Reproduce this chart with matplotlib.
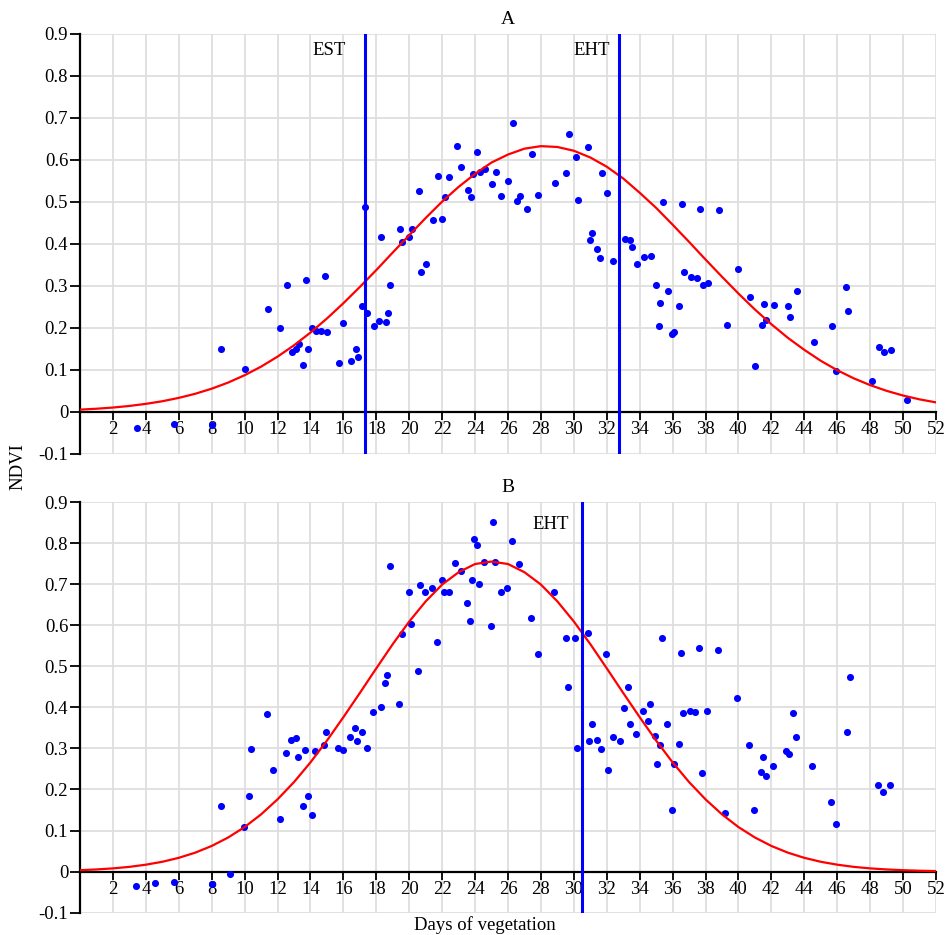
import matplotlib
matplotlib.use("Agg")
from matplotlib import pyplot as plt

plt.rcParams['font.family'] = ['Liberation Serif', 'DejaVu Serif']

# ---- panel A data ----
a_x = [3.46, 5.72, 8.0, 8.58, 10.03, 11.43, 12.16, 12.56, 12.9, 13.15, 13.31, 13.57,
       13.71, 13.88, 14.12, 14.32, 14.62, 14.87, 15.03, 15.73, 16.0, 16.44, 16.75, 16.89,
       17.15, 17.29, 17.46, 17.86, 18.16, 18.26, 18.57, 18.73, 18.83, 19.42, 19.58, 19.98,
       20.15, 20.59, 20.73, 21.01, 21.44, 21.74, 22.0, 22.17, 22.43, 22.88, 23.14, 23.56,
       23.73, 23.87, 24.13, 24.29, 24.59, 25.0, 25.28, 25.57, 25.99, 26.29, 26.56, 26.72,
       27.14, 27.45, 27.85, 28.84, 29.55, 29.71, 30.12, 30.28, 30.84, 31.0, 31.13, 31.41,
       31.57, 31.69, 32.0, 32.4, 33.13, 33.44, 33.56, 33.86, 34.26, 34.71, 34.99, 35.15,
       35.25, 35.4, 35.72, 35.98, 36.1, 36.41, 36.55, 36.71, 37.12, 37.46, 37.68, 37.86,
       38.15, 38.83, 39.3, 39.97, 40.7, 40.98, 41.42, 41.57, 41.69, 42.13, 42.98, 43.12,
       43.54, 44.58, 45.71, 45.95, 46.54, 46.68, 48.1, 48.56, 48.83, 49.25, 50.26]
a_y = [-0.037, -0.028, -0.032, 0.149, 0.103, 0.246, 0.200, 0.302, 0.143, 0.149, 0.163, 0.111,
       0.315, 0.151, 0.200, 0.194, 0.194, 0.323, 0.190, 0.117, 0.211, 0.121, 0.151, 0.131,
       0.253, 0.489, 0.236, 0.204, 0.216, 0.416, 0.215, 0.236, 0.302, 0.436, 0.405, 0.417,
       0.436, 0.525, 0.333, 0.352, 0.456, 0.562, 0.459, 0.512, 0.560, 0.634, 0.584, 0.529,
       0.511, 0.566, 0.619, 0.571, 0.578, 0.543, 0.572, 0.515, 0.550, 0.689, 0.502, 0.515,
       0.484, 0.614, 0.517, 0.546, 0.569, 0.663, 0.608, 0.505, 0.632, 0.410, 0.426, 0.389,
       0.367, 0.569, 0.522, 0.359, 0.413, 0.410, 0.392, 0.352, 0.369, 0.372, 0.303, 0.205,
       0.259, 0.500, 0.288, 0.185, 0.190, 0.253, 0.496, 0.333, 0.321, 0.320, 0.484, 0.303,
       0.306, 0.482, 0.206, 0.340, 0.273, 0.109, 0.208, 0.256, 0.220, 0.255, 0.253, 0.227,
       0.287, 0.167, 0.204, 0.097, 0.298, 0.241, 0.074, 0.154, 0.143, 0.147, 0.028]
# fitted curve, read every day
a_fit_x = list(range(0, 53))
a_fit_y = [0.0056, 0.0078, 0.0106, 0.0144, 0.0194, 0.0256, 0.0336, 0.0434, 0.0555, 0.0701,
           0.0876, 0.108, 0.1318, 0.1588, 0.1891, 0.2226, 0.259, 0.2978, 0.338, 0.3798,
           0.421, 0.462, 0.501, 0.536, 0.567, 0.594, 0.613, 0.627, 0.633, 0.631,
           0.622, 0.606, 0.584, 0.556, 0.522, 0.486, 0.446, 0.405, 0.363, 0.322,
           0.282, 0.244, 0.209, 0.1766, 0.148, 0.1219, 0.0995, 0.0802, 0.064, 0.0504,
           0.0392, 0.0301, 0.0229]
a_lines = [17.29, 32.77]
a_line_labels = ['EST', 'EHT']

# ---- panel B data ----
b_x = [3.42, 4.57, 5.68, 7.99, 9.12, 8.56, 9.97, 10.24, 10.39, 11.39, 11.71, 12.14, 12.54,
       12.84, 13.13, 13.27, 13.55, 13.67, 13.85, 14.12, 14.26, 14.83, 14.97, 15.68, 15.96,
       16.4, 16.69, 16.85, 17.11, 17.42, 17.82, 18.26, 18.53, 18.67, 18.81, 19.4, 19.58,
       19.96, 20.1, 20.55, 20.67, 20.98, 21.4, 21.66, 21.97, 22.11, 22.43, 22.8, 23.12,
       23.52, 23.68, 23.81, 23.95, 24.13, 24.23, 24.53, 24.96, 25.08, 25.24, 25.55, 25.95,
       26.23, 26.68, 27.37, 27.83, 28.82, 29.53, 29.65, 30.1, 30.22, 30.83, 30.95, 31.09,
       31.39, 31.66, 31.96, 32.08, 32.38, 32.79, 33.05, 33.31, 33.4, 33.8, 34.2, 34.53,
       34.65, 34.95, 35.07, 35.21, 35.36, 35.64, 35.94, 36.1, 36.37, 36.51, 36.63, 37.08,
       37.38, 37.62, 37.8, 38.09, 38.77, 39.2, 39.93, 40.66, 40.92, 41.34, 41.49, 41.65,
       42.07, 42.9, 43.06, 43.33, 43.51, 44.48, 45.63, 45.92, 46.6, 46.78, 48.46, 48.79,
       49.19]
b_y = [-0.035, -0.027, -0.025, -0.031, -0.006, 0.159, 0.108, 0.183, 0.299, 0.384, 0.248,
       0.129, 0.289, 0.321, 0.326, 0.279, 0.159, 0.296, 0.184, 0.139, 0.294, 0.308, 0.339,
       0.300, 0.296, 0.329, 0.349, 0.318, 0.339, 0.300, 0.388, 0.401, 0.459, 0.479, 0.745,
       0.409, 0.578, 0.680, 0.604, 0.489, 0.699, 0.680, 0.690, 0.559, 0.709, 0.680, 0.680,
       0.752, 0.733, 0.654, 0.610, 0.709, 0.809, 0.796, 0.700, 0.754, 0.598, 0.852, 0.755,
       0.680, 0.690, 0.805, 0.750, 0.618, 0.529, 0.680, 0.569, 0.450, 0.569, 0.300, 0.582,
       0.318, 0.359, 0.321, 0.299, 0.529, 0.248, 0.329, 0.318, 0.399, 0.449, 0.359, 0.336,
       0.392, 0.366, 0.409, 0.330, 0.263, 0.308, 0.569, 0.359, 0.149, 0.263, 0.310, 0.532,
       0.386, 0.392, 0.389, 0.545, 0.241, 0.392, 0.539, 0.143, 0.422, 0.308, 0.149, 0.242,
       0.279, 0.234, 0.258, 0.293, 0.286, 0.386, 0.328, 0.258, 0.169, 0.115, 0.339, 0.473,
       0.211, 0.195, 0.211]
b_fit_x = list(range(0, 53))
b_fit_y = [0.0035, 0.0053, 0.0079, 0.0116, 0.0169, 0.0240, 0.0336, 0.0462, 0.0625, 0.0831,
           0.1085, 0.1394, 0.176, 0.218, 0.266, 0.319, 0.376, 0.435, 0.495, 0.554,
           0.609, 0.658, 0.699, 0.729, 0.749, 0.755, 0.749, 0.729, 0.699, 0.658,
           0.609, 0.554, 0.495, 0.435, 0.376, 0.319, 0.266, 0.218, 0.176, 0.1394,
           0.1085, 0.0831, 0.0625, 0.0462, 0.0336, 0.0240, 0.0169, 0.0116, 0.0079, 0.0053,
           0.0035, 0.0022, 0.0014]
b_lines = [30.5]
b_line_labels = ['EHT']

xticks = list(range(2, 53, 2))
yticks = [-0.1, 0, 0.1, 0.2, 0.3, 0.4, 0.5, 0.6, 0.7, 0.8, 0.9]
ytick_labels = ['-0.1', '0', '0.1', '0.2', '0.3', '0.4', '0.5', '0.6', '0.7', '0.8', '0.9']

W, H = 947, 935
fig = plt.figure(figsize=(W / 100, H / 100), dpi=100)


def panel(rect, title, px, py, fx, fy, lines, labels, label_pos):
    ax = fig.add_axes(rect)
    ax.set_xlim(0, 52)
    ax.set_ylim(-0.1, 0.9)
    ax.set_xticks(xticks)
    ax.set_xticklabels([str(t) for t in xticks])
    ax.set_yticks(yticks)
    ax.set_yticklabels(ytick_labels)
    ax.grid(True, color='#dedede', lw=1.3, zorder=0)
    ax.set_axisbelow(True)
    for s in ['top', 'right']:
        ax.spines[s].set_visible(False)
    ax.spines['bottom'].set_position(('data', 0))
    ax.spines['bottom'].set_linewidth(1.6)
    ax.spines['left'].set_linewidth(1.6)
    ax.tick_params(axis='x', length=5.5, width=1.3, pad=1, labelsize=13.5)
    ax.tick_params(axis='y', length=7, width=1.3, pad=1.5, labelsize=13.5)
    ax.scatter(px, py, s=26, color='#0000ff', zorder=3, linewidths=0)
    ax.plot(fx, fy, color='#ff0000', lw=1.6, zorder=4)
    for xv, lab, (tx, ty) in zip(lines, labels, label_pos):
        ax.axvline(xv, color='#0000ff', lw=2.2, zorder=5)
        ax.text(tx, ty, lab, ha='center', va='center', fontsize=13.5)
    ax.set_title(title, fontsize=14, pad=7)
    return ax


panel([80 / W, 1 - 454 / H, 856 / W, 420 / H], 'A', a_x, a_y, a_fit_x, a_fit_y,
      a_lines, a_line_labels, [(15.13, 0.86), (31.1, 0.86)])
panel([80 / W, 1 - 912.7 / H, 856 / W, 410.7 / H], 'B', b_x, b_y, b_fit_x, b_fit_y,
      b_lines, b_line_labels, [(28.58, 0.845)])

fig.text(18 / W, 1 - 467 / H, 'NDVI', rotation=90, ha='center', va='center', fontsize=13.5)
fig.text(485 / W, 1 - 925 / H, 'Days of vegetation', ha='center', va='center', fontsize=13.5)

fig.savefig('out.png', dpi=100)
